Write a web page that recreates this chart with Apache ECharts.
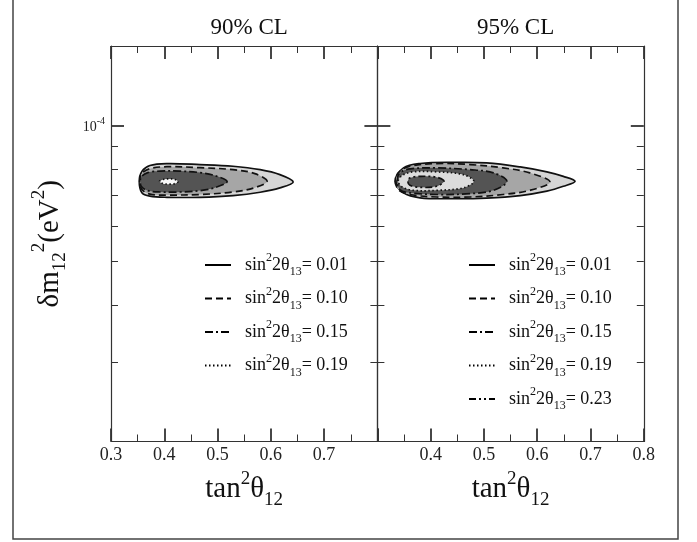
<!DOCTYPE html>
<html>
<head>
<meta charset="utf-8">
<script src="https://cdn.jsdelivr.net/npm/echarts@6/dist/echarts.min.js"></script>
<style>
html, body { margin: 0; padding: 0; background: #fff; }
#main { width: 697px; height: 542px; }
</style>
</head>
<body>
<div id="main"></div>
<script>
// sin^2(2 theta13) of each contour, per panel
var s13Left = ['0.01', '0.10', '0.15', '0.19'];
var s13Right = ['0.01', '0.10', '0.15', '0.19', '0.23'];
var panelTitles = ['90% CL', '95% CL'];

// axis ranges and ticks (y in eV^2, log scale)
var xTicks = [0.3, 0.4, 0.5, 0.6, 0.7, 0.8];
var yMajor = [1e-4];
var yMinor = [2e-5, 3e-5, 4e-5, 5e-5, 6e-5, 7e-5, 8e-5, 9e-5];
var yRange = [2e-5, 1.5e-4];

// contours: [tan^2 theta12, dm12^2 in 1e-5 eV^2]
var left01 = [[0.642,7.50],[0.617,7.79],[0.580,7.99],[0.529,8.13],[0.467,8.20],[0.405,8.24],[0.373,8.16],[0.358,7.92],[0.353,7.53],[0.358,7.10],[0.373,6.98],[0.405,6.94],[0.467,6.94],[0.529,7.00],[0.580,7.12],[0.617,7.28]];
var left10 = [[0.593,7.53],[0.570,7.83],[0.529,7.99],[0.467,8.07],[0.405,8.11],[0.373,8.03],[0.358,7.83],[0.354,7.53],[0.358,7.22],[0.373,7.05],[0.405,7.02],[0.467,7.04],[0.529,7.13],[0.570,7.29]];
var left15 = [[0.518,7.52],[0.495,7.75],[0.467,7.87],[0.430,7.93],[0.392,7.93],[0.369,7.87],[0.357,7.71],[0.355,7.52],[0.357,7.33],[0.369,7.18],[0.392,7.13],[0.430,7.13],[0.467,7.18],[0.495,7.29]];
var left19 = [[0.391,7.52],[0.398,7.60],[0.409,7.62],[0.420,7.60],[0.426,7.52],[0.420,7.44],[0.409,7.42],[0.398,7.44]];

var right01 = [[0.671,7.53],[0.649,7.72],[0.618,7.90],[0.568,8.10],[0.505,8.27],[0.442,8.29],[0.380,8.24],[0.349,8.06],[0.333,7.53],[0.349,7.10],[0.380,6.92],[0.442,6.89],[0.505,6.91],[0.568,7.00],[0.618,7.16],[0.649,7.34]];
var right10 = [[0.624,7.50],[0.586,7.86],[0.536,8.06],[0.474,8.20],[0.411,8.24],[0.361,8.13],[0.339,7.86],[0.335,7.53],[0.339,7.22],[0.361,7.04],[0.411,6.95],[0.474,6.95],[0.536,7.04],[0.586,7.19]];
var right15 = [[0.543,7.53],[0.518,7.86],[0.474,7.99],[0.411,8.06],[0.361,8.02],[0.342,7.86],[0.337,7.53],[0.342,7.22],[0.361,7.10],[0.411,7.04],[0.474,7.07],[0.518,7.19]];
var right19 = [[0.481,7.53],[0.461,7.79],[0.411,7.90],[0.367,7.90],[0.346,7.75],[0.339,7.53],[0.346,7.32],[0.367,7.19],[0.411,7.19],[0.461,7.28]];
var right23 = [[0.425,7.53],[0.411,7.69],[0.380,7.72],[0.361,7.66],[0.357,7.53],[0.361,7.38],[0.380,7.30],[0.411,7.34]];

var serif = 'Liberation Serif';
var dashes = [null, [7, 4], [8, 3, 2, 3], [1.5, 2.5], [7, 3, 2, 3, 2, 3]];
var lineTypes = ['solid', [7, 4], [8, 3, 2, 3], [1.5, 2.5], [7, 3, 2, 3, 2, 3]];
var fills = [
	['#d6d6d6', '#a6a6a6', '#545454', '#f8f8f8'],
	['#d6d6d6', '#a6a6a6', '#545454', '#dcdcdc', '#545454']
];

function log10List(arr) {
	return arr.map(function (v) { return Math.log10(v); });
}

function contour(pts, panel, level) {
	var data = pts.map(function (p) { return [p[0], Math.log10(p[1] * 1e-5)]; });
	return {
		type: 'custom',
		name: 'c' + panel + '_' + level,
		xAxisIndex: panel * 2,
		yAxisIndex: panel * 4,
		silent: true,
		data: data,
		renderItem: function (params, api) {
			if (params.dataIndex !== 0) return null;
			var poly = data.map(function (d) { return api.coord(d); });
			return {
				type: 'polygon',
				shape: { points: poly, smooth: 0.35 },
				style: { fill: fills[panel][level], stroke: '#111', lineWidth: 1.7, lineDash: dashes[level] }
			};
		}
	};
}

var tickColor = '#333';
var nameStyle = {
	fontFamily: serif, fontSize: 29, color: '#111', lineHeight: 40,
	rich: {
		sup: { fontFamily: serif, fontSize: 19, verticalAlign: 'top', lineHeight: 22 },
		sub: { fontFamily: serif, fontSize: 19, verticalAlign: 'bottom', lineHeight: 22 }
	}
};

function xAxisDef(grid, pos) {
	return {
		type: 'value', gridIndex: grid, position: pos,
		min: xTicks[0], max: xTicks[xTicks.length - 1], interval: 0.1,
		name: pos === 'bottom' ? 'tan{sup|2}θ{sub|12}' : '',
		nameLocation: 'middle', nameGap: 28, nameTextStyle: nameStyle,
		axisLine: { show: true, lineStyle: { color: tickColor, width: 1.2 } },
		axisTick: { inside: true, length: 13, lineStyle: { color: tickColor, width: 1.8 } },
		minorTick: { show: true, splitNumber: 2, length: 7, lineStyle: { color: tickColor, width: 1 } },
		splitLine: { show: false },
		axisLabel: {
			show: pos === 'bottom', margin: 5,
			showMinLabel: grid === 0, showMaxLabel: grid === 1,
			fontFamily: serif, fontSize: 18, color: '#222'
		}
	};
}

function yAxisDef(grid, pos, vals, len, width, main) {
	var withName = main && grid === 0 && pos === 'left';
	return {
		type: 'value', gridIndex: grid, position: pos,
		min: Math.log10(yRange[0]), max: Math.log10(yRange[1]),
		name: withName ? 'δm{sub|12}{sup|2}(eV{sup|2})' : '',
		nameLocation: 'middle', nameGap: 41, nameTextStyle: nameStyle,
		axisLine: { show: main, lineStyle: { color: tickColor, width: 1.2 } },
		axisTick: { inside: true, length: len, customValues: log10List(vals), lineStyle: { color: tickColor, width: width } },
		splitLine: { show: false },
		axisLabel: {
			show: withName, margin: 6, customValues: log10List(yMajor),
			formatter: function (v) { return '{b|10}{s|' + Math.round(v) + '}'; },
			rich: {
				b: { fontFamily: serif, fontSize: 14, color: '#222', verticalAlign: 'bottom', lineHeight: 18 },
				s: { fontFamily: serif, fontSize: 10, color: '#222', verticalAlign: 'top', lineHeight: 10 }
			}
		}
	};
}

var xAxes = [], yAxes = [], grids = [];
[0, 1].forEach(function (g) {
	grids.push({ left: 111 + g * 266.4, top: 46, width: 266.4, height: 395.5, outerBoundsMode: 'none' });
	xAxes.push(xAxisDef(g, 'bottom'), xAxisDef(g, 'top'));
	yAxes.push(
		yAxisDef(g, 'left', yMajor, 13, 1.8, true),
		yAxisDef(g, 'left', yMinor, 7, 1, false),
		yAxisDef(g, 'right', yMajor, 13, 1.8, true),
		yAxisDef(g, 'right', yMinor, 7, 1, false)
	);
});

var series = [];
[left01, left10, left15, left19].forEach(function (c, i) { series.push(contour(c, 0, i)); });
[right01, right10, right15, right19, right23].forEach(function (c, i) { series.push(contour(c, 1, i)); });
// empty line series carry the legend line styles
s13Right.forEach(function (v, i) {
	series.push({
		type: 'line', name: v, xAxisIndex: 0, yAxisIndex: 0, data: [], symbol: 'none',
		lineStyle: { color: '#000', width: 1.6, type: lineTypes[i] }
	});
});

function legendDef(names, left) {
	return {
		data: names, orient: 'vertical', left: left, top: 252, padding: 0,
		itemWidth: 26, itemHeight: 10, itemGap: 7.5, selectedMode: false,
		itemStyle: { opacity: 0, borderWidth: 0 },
		formatter: function (name) { return '{g| }sin{sup|2}2θ{sub|13}= ' + name; },
		textStyle: {
			fontFamily: serif, fontSize: 18, color: '#111', lineHeight: 26,
			rich: {
				g: { width: 9 },
				sup: { fontFamily: serif, fontSize: 12, verticalAlign: 'top', lineHeight: 13 },
				sub: { fontFamily: serif, fontSize: 12, verticalAlign: 'bottom', lineHeight: 13 }
			}
		}
	};
}

var chart = echarts.init(document.getElementById('main'));
chart.setOption({
	backgroundColor: '#fff',
	animation: false,
	title: panelTitles.map(function (t, i) {
		return {
			text: t, left: 244.2 + i * 266.4, top: 11, textAlign: 'center',
			textStyle: { fontFamily: serif, fontSize: 23, fontWeight: 'normal', color: '#111' }
		};
	}),
	legend: [legendDef(s13Left, 204), legendDef(s13Right, 468)],
	grid: grids,
	xAxis: xAxes,
	yAxis: yAxes,
	series: series,
	graphic: [{
		type: 'rect', silent: true,
		shape: { x: 13, y: -20, width: 665, height: 559 },
		style: { fill: 'none', stroke: '#444', lineWidth: 1.5 }
	}]
});
</script>
</body>
</html>
